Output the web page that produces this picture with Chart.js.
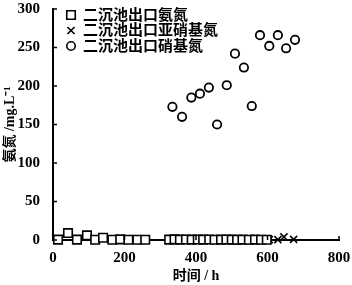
<!DOCTYPE html>
<html>
<head>
<meta charset="utf-8">
<script src="https://cdn.jsdelivr.net/npm/chart.js"></script>
<style>
  body { margin: 0; background: #fff; }
</style>
</head>
<body>
<canvas id="chart" width="352" height="285"></canvas>
<script>
// times (h) and concentrations (mg/L)
const ammoniaTime = [14, 42, 67, 95, 118, 140, 166, 188, 211, 236, 258, 325, 340, 355, 372, 388, 405, 420, 437, 452, 470, 485, 500, 515, 530, 548, 565, 582, 598];
const ammonia = [0.5, 9, 0.5, 6, 0.3, 3, 0.3, 0.8, 0.3, 0.3, 0.3, 0.5, 0.8, 0.5, 0.6, 0.5, 0.7, 0.5, 0.6, 0.4, 0.5, 0.6, 0.5, 0.4, 0.5, 0.4, 0.5, 0.3, 0.4];
const nitriteTime = [334, 361, 387, 411, 436, 459, 486, 509, 534, 556, 579, 605, 629, 646, 673];
const nitrite = [0.3, 0.2, 0.4, 0.3, 0.2, 0.3, 0.2, 0.3, 0.2, 0.3, 0.2, 0.4, 0.5, 4, 0.8];
const nitrateTime = [334, 361, 387, 411, 436, 459, 486, 509, 534, 556, 579, 605, 629, 652, 677];
const nitrate = [173, 160, 185, 190, 198, 150, 201, 242, 224, 174, 266, 252, 266, 249, 260];

const seriesNames = ["二沉池出口氨氮", "二沉池出口亚硝基氮", "二沉池出口硝基氮"];

const FONT = '"Liberation Serif", "Noto Sans CJK SC", serif';

const toPoints = (xs, ys) => xs.map((x, i) => ({ x: x, y: ys[i] }));

// ticks drawn inward, like the original
const innerTicks = {
  id: "innerTicks",
  afterDraw(chart) {
    const { ctx, chartArea, scales } = chart;
    ctx.save();
    ctx.strokeStyle = "#000";
    ctx.lineWidth = 1.5;
    ctx.beginPath();
    scales.y.ticks.forEach(t => {
      const py = scales.y.getPixelForValue(t.value);
      ctx.moveTo(chartArea.left, py);
      ctx.lineTo(chartArea.left + 4, py);
    });
    scales.x.ticks.forEach(t => {
      const px = scales.x.getPixelForValue(t.value);
      ctx.moveTo(px, chartArea.bottom);
      ctx.lineTo(px, chartArea.bottom - 4);
    });
    ctx.stroke();
    ctx.restore();
  }
};

// legend in the top-left corner of the plot
const cornerLegend = {
  id: "cornerLegend",
  afterDatasetsDraw(chart) {
    const { ctx, chartArea } = chart;
    ctx.save();
    ctx.font = "bold 15px " + FONT;
    ctx.textBaseline = "middle";
    chart.data.datasets.forEach((ds, i) => {
      const x = chartArea.left + 18;
      const y = chartArea.top + 6 + i * 15.5;
      ctx.fillStyle = "#fff";
      ctx.strokeStyle = "#000";
      ctx.lineWidth = 1.6;
      Chart.helpers.drawPoint(ctx, { pointStyle: ds.pointStyle, radius: ds.pointRadius, borderWidth: 1.6 }, x, y);
      ctx.fillStyle = "#000";
      ctx.fillText(ds.label, chartArea.left + 30, y + 1);
    });
    ctx.restore();
  }
};

new Chart(document.getElementById("chart"), {
  type: "scatter",
  data: {
    datasets: [
      {
        label: seriesNames[0],
        data: toPoints(ammoniaTime, ammonia),
        pointStyle: "rect",
        pointRadius: 6,
        borderWidth: 1.6,
        borderColor: "#000",
        backgroundColor: "#fff",
        clip: false
      },
      {
        label: seriesNames[1],
        data: toPoints(nitriteTime, nitrite),
        pointStyle: "crossRot",
        pointRadius: 5,
        borderWidth: 1.6,
        borderColor: "#000",
        backgroundColor: "#fff",
        clip: false
      },
      {
        label: seriesNames[2],
        data: toPoints(nitrateTime, nitrate),
        pointStyle: "circle",
        pointRadius: 4.2,
        borderWidth: 1.8,
        borderColor: "#000",
        backgroundColor: "#fff",
        clip: false
      }
    ]
  },
  options: {
    responsive: false,
    animation: false,
    layout: { padding: { top: 9, right: 13, left: 2, bottom: 0 } },
    plugins: {
      legend: { display: false },
      tooltip: { enabled: false }
    },
    scales: {
      x: {
        min: 0,
        max: 800,
        ticks: { stepSize: 200, color: "#000", font: { family: FONT, size: 15, weight: "bold" }, padding: 1, maxRotation: 0 },
        grid: { display: false },
        border: { display: true, color: "#000", width: 2 },
        title: { display: true, text: "时间 / h", color: "#000", font: { family: FONT, size: 14, weight: "bold" }, padding: { top: 2, bottom: 0 } },
        afterFit(scale) { scale.height = 45; }
      },
      y: {
        min: 0,
        max: 300,
        ticks: { stepSize: 50, color: "#000", font: { family: FONT, size: 15, weight: "bold" }, padding: 5 },
        grid: { display: false },
        border: { display: true, color: "#000", width: 2 },
        title: { display: true, text: "氨氮 /mg.L⁻¹", color: "#000", font: { family: FONT, size: 14, weight: "bold" }, padding: { top: 0, bottom: 2 } },
        afterFit(scale) {
          scale.width = 51;
          scale.paddingTop = 0;
        }
      }
    }
  },
  plugins: [innerTicks, cornerLegend]
});
</script>
</body>
</html>
